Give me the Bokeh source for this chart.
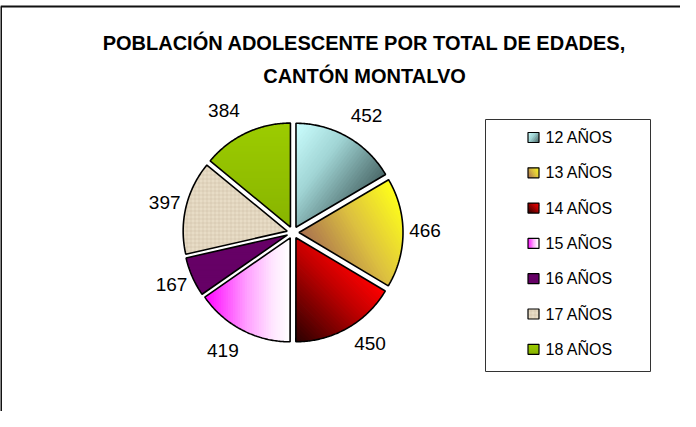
import numpy as np
from bokeh.plotting import figure
from bokeh.models import Range1d, ColumnDataSource
from bokeh.core.properties import value
from bokeh.embed import file_html
from bokeh.resources import INLINE

# ---------------- data ----------------
title_lines = ["POBLACIÓN ADOLESCENTE POR TOTAL DE EDADES,", "CANTÓN MONTALVO"]
categories = ["12 AÑOS", "13 AÑOS", "14 AÑOS", "15 AÑOS", "16 AÑOS", "17 AÑOS", "18 AÑOS"]
values = [452, 466, 450, 419, 167, 397, 384]

# ---------------- styles ----------------
# gradient direction (math coords, y up) and colour stops per slice
GRAD_DIR = [(0.8, -0.6), (-0.86, -0.5), (-0.7, -0.7), (1, 0), (0, -1), (0, -1), (0, -1)]
GRAD_STOPS = [
    [(0, "#CCFFFF"), (0.45, "#A0D4D4"), (1, "#4A6868")],
    [(0, "#FFFF1A"), (0.5, "#DCC040"), (1, "#A87050")],
    [(0, "#FF0000"), (0.35, "#C00000"), (1, "#2A0000")],
    [(0, "#FF00FF"), (0.5, "#FFA0FF"), (0.8, "#FFE6FF"), (1, "#FFFFFF")],
    [(0, "#660066"), (1, "#660066")],
    [(0, "#E8DCC6"), (1, "#E8DCC6")],
    [(0, "#9CCC00"), (1, "#88B400")],
]
TEXTURED = 5  # index of the canvas-textured slice
LABEL_NUDGE = [(6, 6), (-4, 2), (10, 0), (-7, -5), (3, -1), (4, 1), (-11, 7)]

W, H = 680, 411
CX, CY, R, EXPLODE = 292.5, 232.0, 104.0, 6.0
FONT = "Liberation Sans"


def hex2rgb(h):
    h = h.lstrip("#")
    return np.array([int(h[i:i + 2], 16) for i in (0, 2, 4)], float)


def interp(stops, t):
    for (t0, c0), (t1, c1) in zip(stops[:-1], stops[1:]):
        if t <= t1 or (t1 == stops[-1][0]):
            f = 0 if t1 == t0 else min(max((t - t0) / (t1 - t0), 0), 1)
            c = hex2rgb(c0) * (1 - f) + hex2rgb(c1) * f
            return "#%02x%02x%02x" % tuple(int(round(v)) for v in c)
    return stops[-1][1]


def clip(poly, n, c):
    out = []
    k = len(poly)
    for i in range(k):
        P = np.array(poly[i]); Q = np.array(poly[(i + 1) % k])
        dp = P @ n - c; dq = Q @ n - c
        if dp >= 0:
            out.append(P)
        if (dp >= 0) != (dq >= 0):
            t = dp / (dp - dq)
            out.append(P + t * (Q - P))
    return out


def gradient_strips(poly, gdir, stops, n):
    g = np.array(gdir, float); g /= np.linalg.norm(g)
    proj = np.array(poly) @ g
    edges = np.linspace(proj.min(), proj.max(), n + 1)
    res = []
    for i in range(n):
        q = clip(poly, g, edges[i] - 0.4)
        if len(q) >= 3:
            q = clip(q, -g, -(edges[i + 1] + 0.4))
        if len(q) >= 3:
            res.append((q, interp(stops, (i + 0.5) / n)))
    return res


p = figure(width=W, height=H, x_range=Range1d(0, W), y_range=Range1d(H, 0),
           output_backend="svg", toolbar_location=None, min_border=0,
           outline_line_color=None, background_fill_color="white",
           border_fill_color="white")
p.xaxis.visible = False
p.yaxis.visible = False
p.xgrid.visible = False
p.ygrid.visible = False

# chart frame (top and left edges visible)
p.segment(x0=[0, 0.5], y0=[6, 6], x1=[W, 0.5], y1=[6, H], line_color="#111111", line_width=2)

# ---------------- pie ----------------
total = float(sum(values))
strip_xs, strip_ys, strip_cols = [], [], []
out_xs, out_ys = [], []
tex_xs, tex_ys = [], []
lab_x, lab_y, lab_t = [], [], []
start = 90.0
for i, v in enumerate(values):
    sweep = v / total * 360.0
    a0, a1 = start, start - sweep
    start = a1
    bis = np.radians((a0 + a1) / 2)
    u = np.array([np.cos(bis), np.sin(bis)])
    angs = np.radians(np.linspace(a0, a1, max(10, int(sweep * 1.5))))
    poly = [np.array([0.0, 0.0])] + [R * np.array([np.cos(a), np.sin(a)]) for a in angs]
    off = EXPLODE * u
    if i == TEXTURED:
        tex_xs.append([CX + off[0] + q[0] for q in poly])
        tex_ys.append([CY - off[1] - q[1] for q in poly])
    else:
        for q, col in gradient_strips(poly, GRAD_DIR[i], GRAD_STOPS[i], 36):
            strip_xs.append([CX + off[0] + pt[0] for pt in q])
            strip_ys.append([CY - off[1] - pt[1] for pt in q])
            strip_cols.append(col)
    out_xs.append([CX + off[0] + q[0] for q in poly])
    out_ys.append([CY - off[1] - q[1] for q in poly])
    # data label
    A = (R + EXPLODE + 10) * u + np.array([16 * u[0], 7.5 * u[1]]) + np.array(LABEL_NUDGE[i])
    lab_x.append(CX + A[0]); lab_y.append(CY - A[1]); lab_t.append(str(v))

# ---------------- legend ----------------
LEG_X0, LEG_X1, LEG_Y0, LEG_Y1 = 485, 650, 119, 371
KEY_X, TXT_X, ITEM_Y0, ITEM_STEP = 533, 545, 137, 35.3
leg_x, leg_y = [], []
for i, cat in enumerate(categories):
    ky = ITEM_Y0 + i * ITEM_STEP
    sq = [np.array(c, float) for c in [(-5.5, 5), (5.5, 5), (5.5, -5), (-5.5, -5)]]
    if i == TEXTURED:
        tex_xs.append([KEY_X + q[0] for q in sq]); tex_ys.append([ky - q[1] for q in sq])
    else:
        for q, col in gradient_strips(sq, GRAD_DIR[i], GRAD_STOPS[i], 8):
            strip_xs.append([KEY_X + pt[0] for pt in q])
            strip_ys.append([ky - pt[1] for pt in q])
            strip_cols.append(col)
    leg_x.append(TXT_X); leg_y.append(ky)

p.patches(xs="xs", ys="ys", fill_color="c", line_color=None,
          source=ColumnDataSource(dict(xs=strip_xs, ys=strip_ys, c=strip_cols)))
p.patches(xs=tex_xs, ys=tex_ys, fill_color=GRAD_STOPS[TEXTURED][0][1], line_color=None,
          hatch_pattern="+", hatch_color="#A89878", hatch_alpha=0.35,
          hatch_scale=4, hatch_weight=0.6)
p.patches(xs=out_xs, ys=out_ys, fill_color=None, line_color="black", line_width=1.6)
key_out_x = [[KEY_X - 5.5, KEY_X + 5.5, KEY_X + 5.5, KEY_X - 5.5]] * len(categories)
key_out_y = [[y - 5, y - 5, y + 5, y + 5] for y in leg_y]
p.patches(xs=key_out_x, ys=key_out_y, fill_color=None, line_color="black", line_width=1.2)
p.patches(xs=[[LEG_X0, LEG_X1, LEG_X1, LEG_X0]], ys=[[LEG_Y0, LEG_Y0, LEG_Y1, LEG_Y1]],
          fill_color=None, line_color="#333333", line_width=1)

p.text(x=leg_x, y=leg_y, text=categories, text_font=value(FONT), text_font_size="16px",
       text_align="left", text_baseline="middle", text_color="black")
p.text(x=lab_x, y=lab_y, text=lab_t, text_font=value(FONT), text_font_size="19px",
       text_align="center", text_baseline="middle", text_color="black")
p.text(x=[364, 364], y=[42, 75], text=title_lines, text_font=value(FONT),
       text_font_size="20px", text_font_style="bold", text_align="center",
       text_baseline="alphabetic", text_color="black")

open("out.html", "w").write(file_html(p, INLINE))
